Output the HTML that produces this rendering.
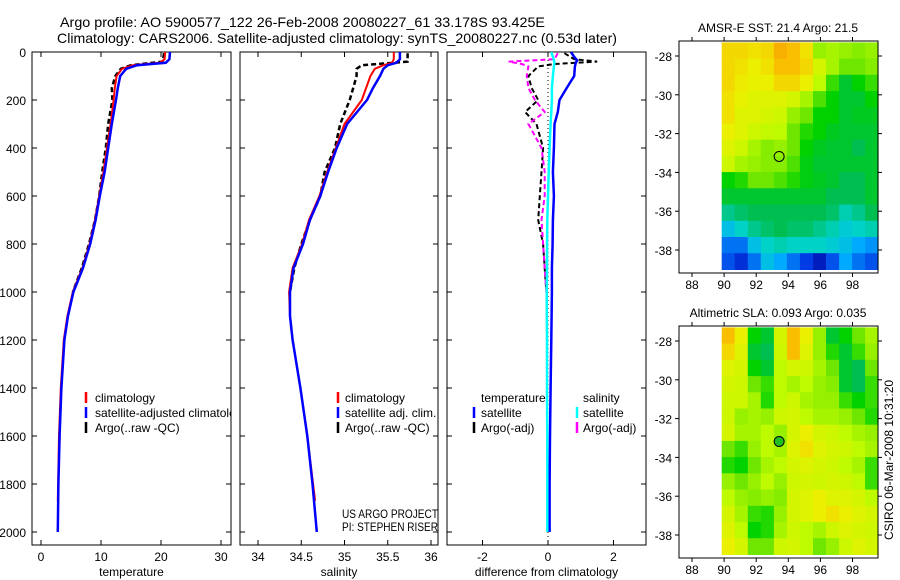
<!DOCTYPE html>
<html><head><meta charset="utf-8">
<style>
html,body{margin:0;padding:0;background:#fff;}
svg{display:block;font-family:"Liberation Sans",Arial,sans-serif;}
</style></head>
<body>
<svg id="chart" width="900" height="580" viewBox="0 0 900 580" xmlns="http://www.w3.org/2000/svg">
<text x="60" y="27" font-size="14" textLength="485" lengthAdjust="spacingAndGlyphs">Argo profile: AO 5900577_122 26-Feb-2008 20080227_61 33.178S 93.425E</text>
<text x="57" y="43" font-size="14" textLength="560" lengthAdjust="spacingAndGlyphs">Climatology: CARS2006. Satellite-adjusted climatology: synTS_20080227.nc (0.53d later)</text>
<text x="342" y="518" font-size="12" textLength="96" lengthAdjust="spacingAndGlyphs">US ARGO PROJECT</text>
<text x="342" y="531" font-size="12" textLength="96" lengthAdjust="spacingAndGlyphs">PI: STEPHEN RISER</text>
<text transform="translate(893,460) rotate(-90)" font-size="12" text-anchor="middle">CSIRO 06-Mar-2008 10:31:20</text>
<g id="g"></g>
</svg>
<script>
// ---------- profile data ----------
const pSat = [0,30,45,55,70,100,150,200,300,400,500,600,700,800,900,1000,1100,1200,1400,1600,1800,2000];
const tSat = [21.5,21.4,20.8,16,14.2,13.2,12.8,12.5,11.8,11.2,10.6,9.8,9.1,8.2,7.0,5.4,4.5,3.9,3.4,3.1,2.9,2.8];
const pClim = [0,30,45,55,70,100,150,200,300,400,500,600,700,800,900,1000,1100,1200,1400,1600,1870];
const tClim = [20.7,20.6,19.8,15.3,13.5,12.6,12.3,12.1,11.6,11.0,10.4,9.7,9.0,8.1,6.9,5.3,4.4,3.8,3.3,3.0,2.8];
const pArgo = [5,40,55,70,100,150,200,300,400,500,600,700,800,900,1000];
const tArgo = [20.5,20.3,15,13.3,12.4,11.8,11.9,11.2,10.8,10.2,9.7,9.0,8.0,6.8,5.3];
const sSat = [35.64,35.64,35.6,35.5,35.45,35.41,35.33,35.26,35.03,34.91,34.81,34.72,34.6,34.52,34.41,34.37,34.37,34.4,34.49,34.57,34.63,34.68];
const sClim = [35.57,35.57,35.55,35.45,35.35,35.3,35.25,35.2,35.0,34.9,34.8,34.71,34.59,34.51,34.4,34.36,34.37,34.4,34.49,34.57,34.66];
const sArgo = [35.73,35.73,35.2,35.14,35.14,35.1,35.06,34.95,34.89,34.77,34.72,34.6,34.5,34.42,34.37];
const pDiff = [0,20,35,45,60,100,150,200,250,300,400,500,600,700,800,900,1000,1200,1400,1600,1800,2000];
const dTSat = [0.7,0.8,0.89,0.85,0.82,0.8,0.57,0.35,0.3,0.2,0.18,0.15,0.18,0.15,0.14,0.12,0.12,0.1,0.08,0.06,0.05,0.05];
const dSSat = [0.1,0.15,0.18,0.2,0.18,0.15,0.12,0.12,0.1,0.08,0.05,0.02,0.0,-0.02,-0.03,-0.03,-0.04,-0.03,-0.03,-0.02,-0.02,-0.02];
const pDArgo = [5,30,40,50,60,100,150,200,250,300,400,500,600,700,800,900,1000];
const dTArgo = [0.5,0.8,1.5,0.2,-0.3,-0.6,-0.5,-0.3,-0.7,-0.35,-0.15,-0.2,-0.25,-0.3,-0.15,-0.1,-0.05];
const dSArgo = [0.3,0.2,-1.2,-0.8,-0.6,-0.65,-0.6,-0.4,-0.1,-0.6,-0.2,-0.1,-0.1,-0.2,-0.15,-0.1,-0.05];
const yTicks = [0,200,400,600,800,1000,1200,1400,1600,1800,2000];
const tTicks = [0,10,20,30];
const sTicks = [34,34.5,35,35.5,36];
const dTicks = [-2,0,2];
// ---------- map data ----------
const mapLonTicks = [88,90,92,94,96,98];
const mapLatTicks = [-28,-30,-32,-34,-36,-38];
const floatLon = 93.43, floatLat = -33.18;
const sstGrid = [
[.8,.8,.78,.8,.88,.85,.78,.6,.62,.6,.58,.6],
[.8,.78,.75,.78,.85,.85,.8,.7,.62,.55,.55,.58],
[.8,.76,.74,.75,.8,.8,.75,.65,.5,.42,.45,.5],
[.78,.74,.72,.72,.72,.7,.62,.52,.45,.42,.42,.45],
[.78,.72,.72,.7,.68,.6,.55,.45,.45,.42,.43,.43],
[.75,.72,.68,.66,.65,.55,.48,.45,.43,.42,.42,.42],
[.72,.68,.62,.58,.6,.55,.45,.43,.42,.42,.4,.42],
[.68,.62,.6,.58,.58,.52,.44,.42,.42,.42,.42,.42],
[.45,.48,.55,.55,.52,.48,.44,.43,.42,.4,.4,.42],
[.42,.42,.42,.42,.42,.42,.42,.42,.4,.4,.4,.42],
[.35,.38,.4,.4,.4,.4,.4,.4,.38,.32,.35,.4],
[.25,.3,.35,.38,.4,.38,.38,.35,.32,.28,.3,.32],
[.15,.15,.25,.3,.32,.3,.3,.3,.28,.25,.2,.18],
[.12,.08,.15,.25,.2,.15,.1,.05,.12,.2,.15,.12]];
const slaGrid = [
[.85,.75,.45,.42,.7,.85,.75,.6,.42,.45,.55,.62],
[.8,.72,.42,.4,.68,.85,.72,.6,.48,.42,.5,.6],
[.72,.7,.45,.42,.65,.7,.68,.62,.55,.42,.4,.55],
[.7,.68,.55,.5,.65,.62,.65,.6,.58,.42,.4,.5],
[.68,.68,.62,.48,.65,.68,.62,.6,.6,.5,.45,.5],
[.68,.6,.62,.6,.68,.7,.65,.62,.62,.6,.55,.48],
[.7,.62,.62,.65,.6,.7,.75,.7,.68,.65,.62,.6],
[.55,.5,.6,.65,.62,.72,.78,.72,.7,.68,.65,.62],
[.48,.45,.55,.62,.65,.7,.72,.7,.68,.65,.62,.5],
[.6,.55,.6,.65,.6,.68,.7,.68,.7,.68,.65,.5],
[.65,.6,.58,.6,.58,.7,.72,.75,.72,.72,.7,.65],
[.7,.62,.5,.48,.6,.7,.72,.75,.78,.75,.72,.7],
[.72,.65,.45,.48,.62,.68,.65,.62,.68,.72,.7,.68],
[.75,.7,.55,.55,.68,.7,.65,.55,.6,.68,.72,.7]];

const NS='http://www.w3.org/2000/svg';
const G=document.getElementById('g');
function mk(tag,attrs,parent){const e=document.createElementNS(NS,tag);for(const k in attrs)e.setAttribute(k,attrs[k]);(parent||G).appendChild(e);return e;}

const yP = p => 52 + p*0.24;
const xT = t => 41 + t*6;
const xS = s => 258 + (s-34)*86.5;
const xD = d => 548 + d*32.75;

function panel(name,x0,x1,ticks,fx,fmt,xlabel,showY){
  const box=mk('rect',{x:x0,y:52,width:x1-x0,height:493,fill:'none',stroke:'#000','stroke-width':1});
  
  
  ticks.forEach(v=>{const x=fx(v);
    mk('line',{x1:x,x2:x,y1:52,y2:57,stroke:'#000'});
    mk('line',{x1:x,x2:x,y1:545,y2:540,stroke:'#000'});
    const t=mk('text',{x:x,y:561,'font-size':12,'text-anchor':'middle'});t.textContent=fmt(v);
    
    
  });
  yTicks.forEach(p=>{const y=yP(p);
    mk('line',{x1:x0,x2:x0+5,y1:y,y2:y,stroke:'#000'});
    mk('line',{x1:x1,x2:x1-5,y1:y,y2:y,stroke:'#000'});
    if(showY){const t=mk('text',{x:26,y:y+5,'font-size':12,'text-anchor':'end'});t.textContent=p;
      
      }
  });
  const xl=mk('text',{x:(x0+x1)/2,y:576,'font-size':12,'text-anchor':'middle'});xl.textContent=xlabel;
  
  
}
function line(parent,name,ps,vs,fx,color,w,dash){
  const pts=ps.map((p,i)=>fx(vs[i]).toFixed(1)+','+yP(p).toFixed(1)).join(' ');
  const a={points:pts,fill:'none',stroke:color,'stroke-width':w};
  if(dash)a['stroke-dasharray']=dash;
  const e=mk('polyline',a,parent);
  
  
}
function legend(parent,name,xb,xt,y,color,txt){
  mk('line',{x1:xb,x2:xb,y1:y-10,y2:y+1,stroke:color,'stroke-width':2.5},parent);
  const t=mk('text',{x:xt,y:y,'font-size':12},parent);t.textContent=txt;
  
  
}

const defs=mk('defs',{});
[['c1',32,231],['c2',240,438],['c3',447,646]].forEach(c=>{const cp=mk('clipPath',{id:c[0]},defs);mk('rect',{x:c[1],y:52,width:c[2]-c[1],height:493},cp);});

panel('temperature-panel',32,231,tTicks,xT,v=>v,'temperature',true);
panel('salinity-panel',240,438,sTicks,xS,v=>v,'salinity',false);
panel('difference-panel',447,646,dTicks,xD,v=>v,'difference from climatology',false);

const g1=mk('g',{'clip-path':'url(#c1)'});
line(g1,'temp-argo-line',pArgo,tArgo,xT,'#000',2.5,'5,3');
line(g1,'temp-climatology-line',pClim,tClim,xT,'#f00',2);
line(g1,'temp-satellite-line',pSat,tSat,xT,'#00f',2.5);
const g2=mk('g',{'clip-path':'url(#c2)'});
line(g2,'sal-argo-line',pArgo,sArgo,xS,'#000',2.5,'5,3');
line(g2,'sal-climatology-line',pClim,sClim,xS,'#f00',2);
line(g2,'sal-satellite-line',pSat,sSat,xS,'#00f',2.5);
const g3=mk('g',{'clip-path':'url(#c3)'});
mk('line',{x1:xD(0),x2:xD(0),y1:52,y2:545,stroke:'#000','stroke-dasharray':'1,3'},g3);
line(g3,'diff-temp-argo-line',pDArgo,dTArgo,xD,'#000',2,'5,3');
line(g3,'diff-sal-argo-line',pDArgo,dSArgo,xD,'#f0f',2,'5,3');
line(g3,'diff-temp-satellite-line',pDiff,dTSat,xD,'#00f',2.5);
line(g3,'diff-sal-satellite-line',pDiff,dSSat,xD,'#0ff',2.5);

legend(g1,'legend-climatology',86,95,402,'#f00','climatology');
legend(g1,'legend-satellite-adjusted',86,95,417,'#00f','satellite-adjusted climatology');
legend(g1,'legend-argo-raw',86,95,432,'#000','Argo(..raw -QC)');
legend(g2,'legend2-climatology',338,345,402,'#f00','climatology');
legend(g2,'legend2-satellite-adj',338,345,417,'#00f','satellite adj. clim.');
legend(g2,'legend2-argo-raw',338,345,432,'#000','Argo(..raw -QC)');
(function(){const t=mk('text',{x:481,y:402,'font-size':12});t.textContent='temperature';


const s=mk('text',{x:583,y:402,'font-size':12});s.textContent='salinity';

})();
legend(G,'legend3-temp-satellite',474,481,417,'#00f','satellite');
legend(G,'legend3-temp-argo',474,481,432,'#000','Argo(-adj)');
legend(G,'legend3-sal-satellite',577,583,417,'#0ff','satellite');
legend(G,'legend3-sal-argo',577,583,432,'#f0f','Argo(-adj)');

// ---------- maps ----------
function jet(v){
  const stops=[[0,[0,0,150]],[0.1,[0,60,230]],[0.2,[0,170,255]],[0.3,[0,210,200]],[0.4,[0,190,80]],[0.45,[0,210,0]],[0.55,[110,230,0]],[0.65,[190,250,0]],[0.75,[235,240,0]],[0.85,[250,190,0]],[1,[240,120,0]]];
  for(let i=1;i<stops.length;i++){if(v<=stops[i][0]){const a=stops[i-1],b=stops[i];const f=(v-a[0])/(b[0]-a[0]);
    const c=a[1].map((x,k)=>Math.round(x+(b[1][k]-x)*f));return 'rgb('+c.join(',')+')';}}
  return 'rgb(240,120,0)';
}
function map(name,top,grid,title,dotFill){
  const left=679,right=878,bottom=top+232;
  const lonX=l=>692+(l-88)*16.05;
  const latY=l=>top+15+(-28-l)*19.4;
  const t=mk('text',{x:778,y:top-9,'font-size':12,'text-anchor':'middle'});t.textContent=title;
  
  
  const rows=grid.length,cols=grid[0].length;
  const lon0=89.85,lon1=99.6,lat0=-27.3,lat1=-39.0;
  const cg=mk('g',{});
  
  
  for(let r=0;r<rows;r++)for(let c=0;c<cols;c++){
    const la=lat0+(lat1-lat0)*r/rows, lb=lat0+(lat1-lat0)*(r+1)/rows;
    const oa=lon0+(lon1-lon0)*c/cols, ob=lon0+(lon1-lon0)*(c+1)/cols;
    const x=lonX(oa),y=Math.max(top,latY(la));
    const cell=mk('rect',{x:x.toFixed(1),y:y.toFixed(1),width:(Math.min(right,lonX(ob))-x+0.6).toFixed(1),height:(latY(lb)-y+0.6).toFixed(1),fill:jet(grid[r][c])},cg);
    
    
  }
  const fr=mk('rect',{x:left,y:top,width:right-left,height:bottom-top,fill:'none',stroke:'#000'});
  
  
  mapLonTicks.forEach(l=>{const x=lonX(l);
    mk('line',{x1:x,x2:x,y1:top,y2:top-4,stroke:'#000'});
    mk('line',{x1:x,x2:x,y1:bottom,y2:bottom+4,stroke:'#000'});
    const tx=mk('text',{x:x,y:bottom+16,'font-size':12,'text-anchor':'middle'});tx.textContent=l;
    
    });
  mapLatTicks.forEach(l=>{const y=latY(l);
    mk('line',{x1:left,x2:left-4,y1:y,y2:y,stroke:'#000'});
    mk('line',{x1:right,x2:right+4,y1:y,y2:y,stroke:'#000'});
    const tx=mk('text',{x:672,y:y+5,'font-size':12,'text-anchor':'end'});tx.textContent=l;
    
    });
  const dot=mk('circle',{cx:lonX(floatLon),cy:latY(floatLat),r:5,fill:dotFill,stroke:'#000'});
  
  
}
map('sst-map',41,sstGrid,'AMSR-E SST: 21.4  Argo: 21.5','none');
map('sla-map',326,slaGrid,'Altimetric SLA: 0.093  Argo: 0.035','#20c020');
</script>
</body></html>
